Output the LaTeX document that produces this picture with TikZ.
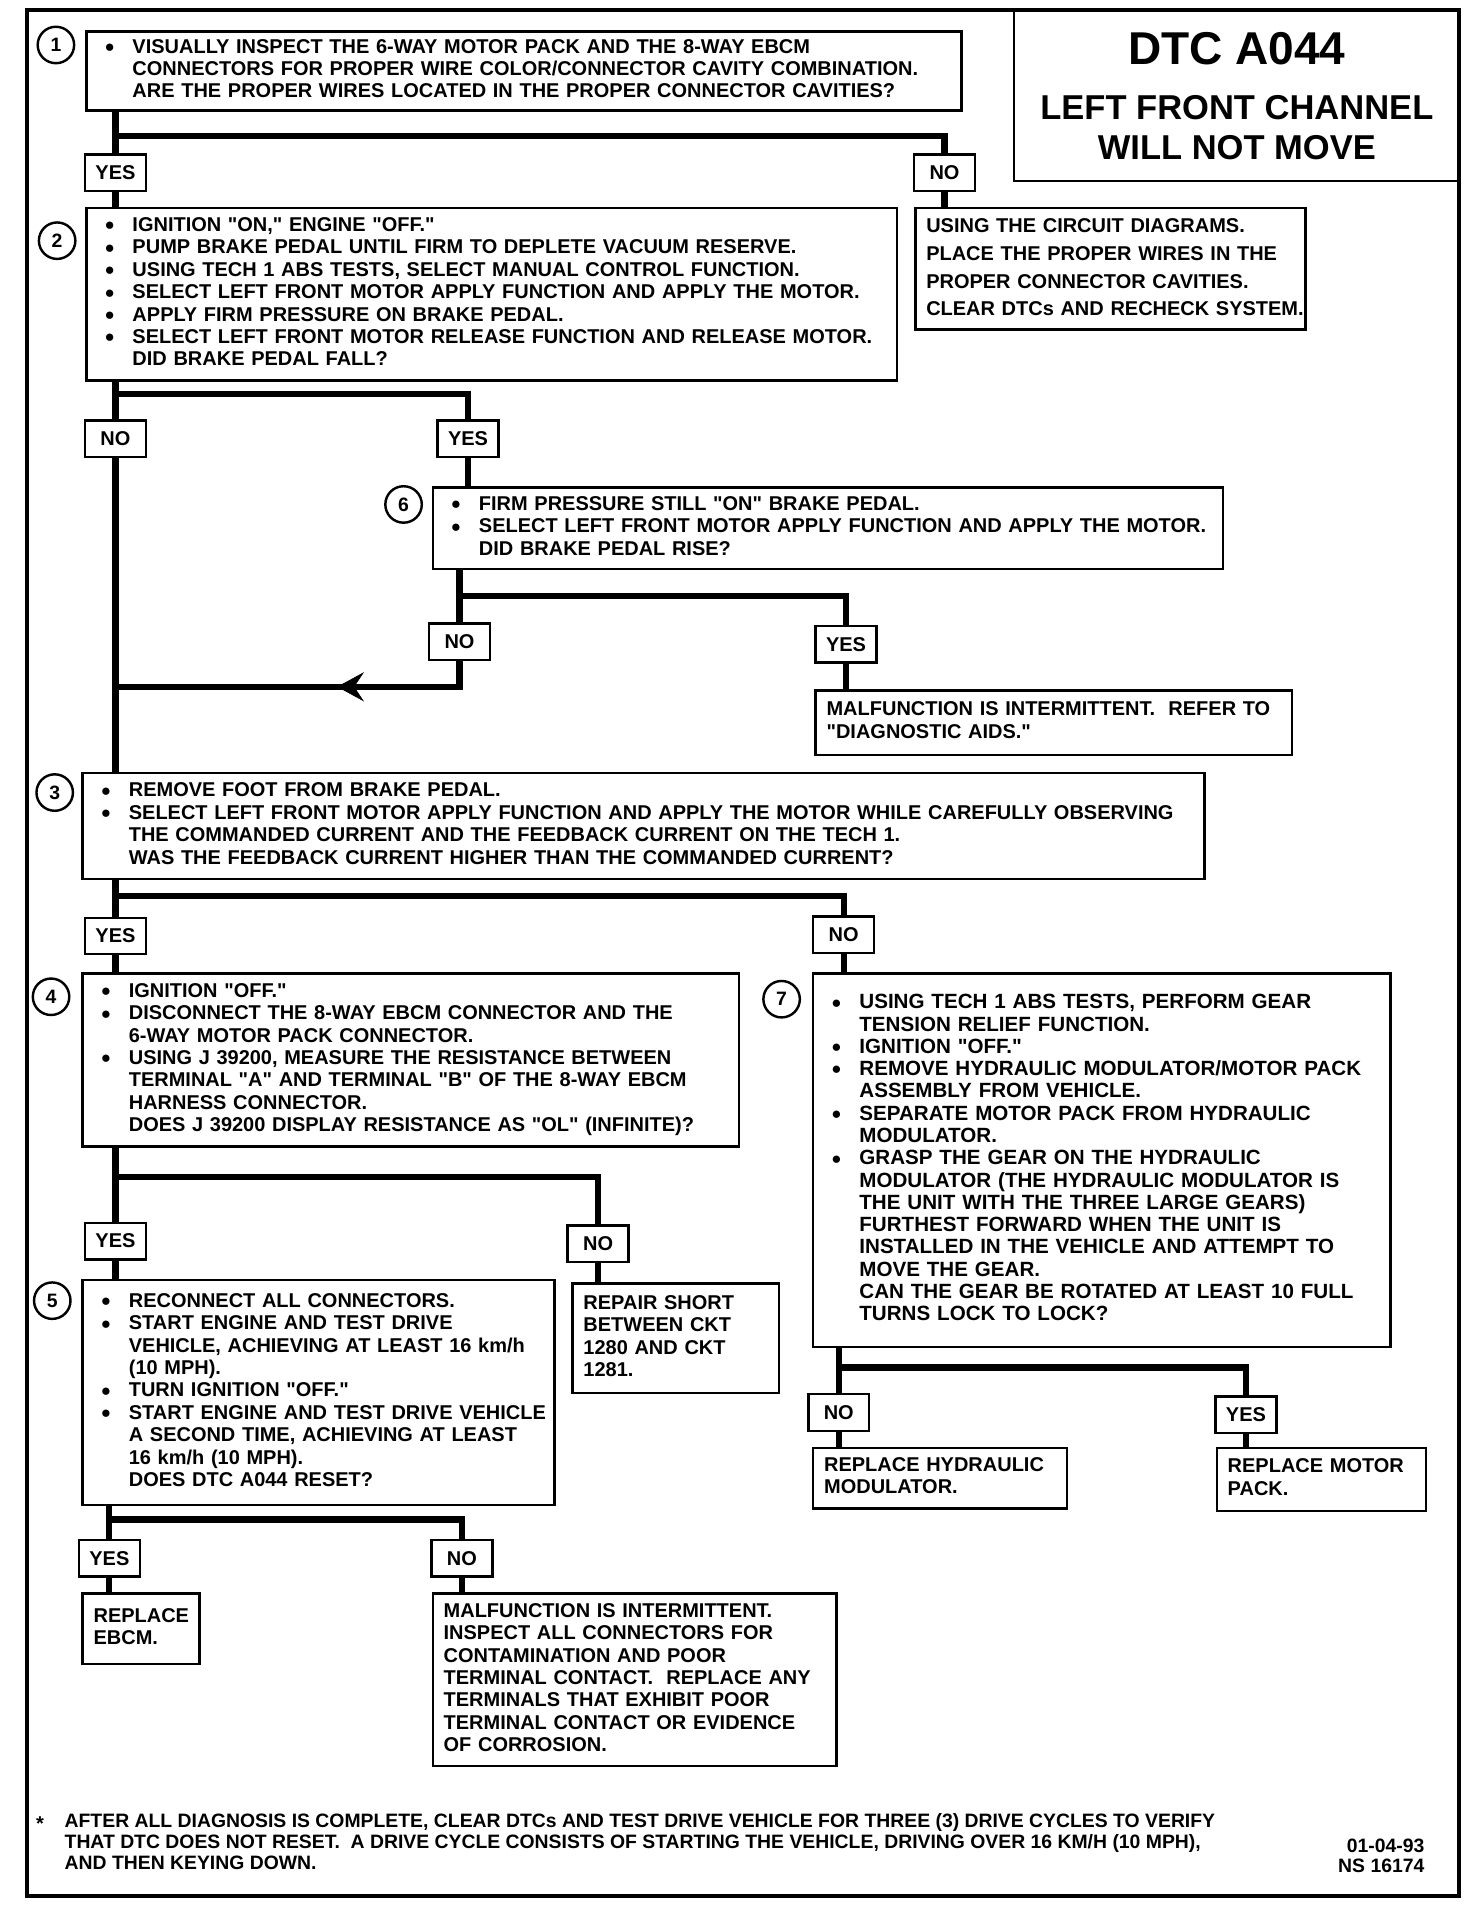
\documentclass[tikz,border=0pt]{standalone}
\usepackage{fontspec}
\setmainfont{Liberation Sans}
\usetikzlibrary{arrows.meta,decorations.markings}

\newcommand\boxfont{\fontsize{16.5}{18.5}\selectfont\bfseries}
\newcommand\numfont{\fontsize{16}{16}\selectfont\bfseries}
\newcommand\bitem{\makebox[23bp][l]{\fontsize{14}{14}\selectfont\raisebox{0.5bp}{●}}}
\newcommand\bcont{\hspace*{23bp}}
\newcommand\qq{\textquotedbl}
\newcommand\boxlines[1]{\begin{tabular}{@{}l@{}}#1\end{tabular}}

\begin{document}
\begin{tikzpicture}[x=1bp, y=-1bp,
            box/.style={draw=black, line width=2bp, anchor=north west, inner xsep=15bp, inner ysep=0bp,
                        align=left, font=\boxfont},
            note/.style={box, inner xsep=9bp},
            answer/.style={draw=black, line width=2bp, minimum width=50bp, minimum height=30bp,
                           inner sep=0bp, font=\boxfont},
            num/.style={circle, draw=black, line width=2bp, minimum size=30bp, inner sep=0bp, font=\numfont},
            link/.style={line width=5bp},
            midarrow/.style={postaction={decorate}, decoration={markings,
                             mark=at position 0.40 with {\arrow{Stealth[length=22bp, width=24bp, inset=8bp, line width=0.5bp]}}}}
        ]
        \fill[white] (0,0) rectangle (1211,1568);
        \draw[line width=3bp] (22,8) rectangle (1200,1560);

        \node[box, minimum width=720bp, minimum height=65bp, text width=690bp] (b1) at (70,25) {\boxlines{
            \bitem VISUALLY INSPECT THE 6-WAY MOTOR PACK AND THE 8-WAY EBCM\\
            \bcont CONNECTORS FOR PROPER WIRE COLOR/CONNECTOR CAVITY COMBINATION.\\
            \bcont ARE THE PROPER WIRES LOCATED IN THE PROPER CONNECTOR CAVITIES?}};
        \node[num] (n1) at (46,37) {1};
        \node[draw=black, line width=2bp, anchor=north west, minimum width=367bp, minimum height=140bp,
              align=center, font=\fontsize{28.5}{33}\selectfont\bfseries] (head) at (833,8)
            {{\fontsize{38}{40}\selectfont DTC A044}\\[12bp] LEFT FRONT CHANNEL\\ WILL NOT MOVE};

        \node[answer] (yes1) at (95,142) {YES};
        \node[answer] (no1) at (777,142) {NO};
        \coordinate (j1) at (95,112);
        \node[note, minimum width=321bp, minimum height=100bp, text width=303bp,
              font=\fontsize{16.5}{23}\selectfont\bfseries] (fix1) at (752,170) {\boxlines{
            USING THE CIRCUIT DIAGRAMS.\\
            PLACE THE PROPER WIRES IN THE\\
            PROPER CONNECTOR CAVITIES.\\
            CLEAR DTCs AND RECHECK SYSTEM.}};

        \node[box, minimum width=667bp, minimum height=142bp, text width=637bp] (b2) at (70,170) {\boxlines{
            \bitem IGNITION \qq ON,\qq{} ENGINE \qq OFF.\qq\\
            \bitem PUMP BRAKE PEDAL UNTIL FIRM TO DEPLETE VACUUM RESERVE.\\
            \bitem USING TECH 1 ABS TESTS, SELECT MANUAL CONTROL FUNCTION.\\
            \bitem SELECT LEFT FRONT MOTOR APPLY FUNCTION AND APPLY THE MOTOR.\\
            \bitem APPLY FIRM PRESSURE ON BRAKE PEDAL.\\
            \bitem SELECT LEFT FRONT MOTOR RELEASE FUNCTION AND RELEASE MOTOR.\\
            \bcont DID BRAKE PEDAL FALL?}};
        \node[num] (n2) at (47,198) {2};

        \node[answer] (no2) at (95,361) {NO};
        \node[answer] (yes2) at (385,361) {YES};
        \coordinate (j2) at (95,324);

        \node[box, minimum width=650bp, minimum height=67bp, text width=620bp] (b6) at (355,400) {\boxlines{
            \bitem FIRM PRESSURE STILL \qq ON\qq{} BRAKE PEDAL.\\
            \bitem SELECT LEFT FRONT MOTOR APPLY FUNCTION AND APPLY THE MOTOR.\\
            \bcont DID BRAKE PEDAL RISE?}};
        \node[num] (n6) at (332,415) {6};

        \node[answer] (no6) at (378,528) {NO};
        \node[answer] (yes6) at (696,530) {YES};
        \coordinate (j6) at (378,490);
        \coordinate (jret) at (95,565);
        \node[note, minimum width=392bp, minimum height=53bp, text width=374bp] (aids) at (670,567) {\boxlines{
            MALFUNCTION IS INTERMITTENT.\ \ REFER TO\\
            \qq DIAGNOSTIC AIDS.\qq}};

        \node[box, minimum width=923bp, minimum height=87bp, text width=893bp] (b3) at (67,635) {\boxlines{
            \bitem REMOVE FOOT FROM BRAKE PEDAL.\\
            \bitem SELECT LEFT FRONT MOTOR APPLY FUNCTION AND APPLY THE MOTOR WHILE CAREFULLY OBSERVING\\
            \bcont THE COMMANDED CURRENT AND THE FEEDBACK CURRENT ON THE TECH 1.\\
            \bcont WAS THE FEEDBACK CURRENT HIGHER THAN THE COMMANDED CURRENT?}};
        \node[num] (n3) at (45,652) {3};

        \node[answer] (yes3) at (95,770) {YES};
        \node[answer] (no3) at (694,769) {NO};
        \coordinate (j3) at (95,737);

        \node[box, minimum width=540bp, minimum height=142bp, text width=510bp] (b4) at (67,800) {\boxlines{
            \bitem IGNITION \qq OFF.\qq\\
            \bitem DISCONNECT THE 8-WAY EBCM CONNECTOR AND THE\\
            \bcont 6-WAY MOTOR PACK CONNECTOR.\\
            \bitem USING J 39200, MEASURE THE RESISTANCE BETWEEN\\
            \bcont TERMINAL \qq A\qq{} AND TERMINAL \qq B\qq{} OF THE 8-WAY EBCM\\
            \bcont HARNESS CONNECTOR.\\
            \bcont DOES J 39200 DISPLAY RESISTANCE AS \qq OL\qq{} (INFINITE)?}};
        \node[num] (n4) at (42,820) {4};

        \node[box, minimum width=475bp, minimum height=307bp, text width=445bp,
              font=\fontsize{17}{18.4}\selectfont\bfseries] (b7) at (668,800) {\boxlines{
            \bitem USING TECH 1 ABS TESTS, PERFORM GEAR\\
            \bcont TENSION RELIEF FUNCTION.\\
            \bitem IGNITION \qq OFF.\qq\\
            \bitem REMOVE HYDRAULIC MODULATOR/MOTOR PACK\\
            \bcont ASSEMBLY FROM VEHICLE.\\
            \bitem SEPARATE MOTOR PACK FROM HYDRAULIC\\
            \bcont MODULATOR.\\
            \bitem GRASP THE GEAR ON THE HYDRAULIC\\
            \bcont MODULATOR (THE HYDRAULIC MODULATOR IS\\
            \bcont THE UNIT WITH THE THREE LARGE GEARS)\\
            \bcont FURTHEST FORWARD WHEN THE UNIT IS\\
            \bcont INSTALLED IN THE VEHICLE AND ATTEMPT TO\\
            \bcont MOVE THE GEAR.\\
            \bcont CAN THE GEAR BE ROTATED AT LEAST 10 FULL\\
            \bcont TURNS LOCK TO LOCK?}};
        \node[num] (n7) at (643,822) {7};

        \node[answer] (yes4) at (95,1021) {YES};
        \node[answer] (no4) at (492,1023) {NO};
        \coordinate (j4) at (95,968);

        \node[box, minimum width=388bp, minimum height=185bp, text width=358bp] (b5) at (67,1052) {\boxlines{
            \bitem RECONNECT ALL CONNECTORS.\\
            \bitem START ENGINE AND TEST DRIVE\\
            \bcont VEHICLE, ACHIEVING AT LEAST 16 km/h\\
            \bcont (10 MPH).\\
            \bitem TURN IGNITION \qq OFF.\qq\\
            \bitem START ENGINE AND TEST DRIVE VEHICLE\\
            \bcont A SECOND TIME, ACHIEVING AT LEAST\\
            \bcont 16 km/h (10 MPH).\\
            \bcont DOES DTC A044 RESET?}};
        \node[num] (n5) at (43,1070) {5};
        \node[note, minimum width=170bp, minimum height=90bp, text width=152bp] (fix4) at (470,1055) {\boxlines{
            REPAIR SHORT\\
            BETWEEN CKT\\
            1280 AND CKT\\
            1281.}};

        \node[answer] (yes5) at (90,1282) {YES};
        \node[answer] (no5) at (380,1282) {NO};
        \coordinate (j5) at (90,1250);
        \node[note, minimum width=96bp, minimum height=58bp, text width=78bp] (ebcm) at (67,1310) {\boxlines{
            REPLACE\\
            EBCM.}};
        \node[note, minimum width=332bp, minimum height=142bp, text width=314bp] (inter) at (355,1310) {\boxlines{
            MALFUNCTION IS INTERMITTENT.\\
            INSPECT ALL CONNECTORS FOR\\
            CONTAMINATION AND POOR\\
            TERMINAL CONTACT.\ \ REPLACE ANY\\
            TERMINALS THAT EXHIBIT POOR\\
            TERMINAL CONTACT OR EVIDENCE\\
            OF CORROSION.}};

        \node[answer] (no7) at (690,1162) {NO};
        \node[answer] (yes7) at (1025,1164) {YES};
        \coordinate (j7) at (690,1125);
        \node[note, minimum width=209bp, minimum height=50bp, text width=191bp] (hyd) at (668,1190) {\boxlines{
            REPLACE HYDRAULIC\\
            MODULATOR.}};
        \node[note, minimum width=172bp, minimum height=52bp, text width=154bp] (motor) at (1000,1190) {\boxlines{
            REPLACE MOTOR\\
            PACK.}};

        \node[font=\boxfont, inner sep=0bp] (star) at (33,1500) {*};
        \node[anchor=north west, inner sep=0bp, font=\fontsize{16}{17.5}\selectfont\bfseries] (foot) at (53,1491) {\boxlines{
            AFTER ALL DIAGNOSIS IS COMPLETE, CLEAR DTCs AND TEST DRIVE VEHICLE FOR THREE (3) DRIVE CYCLES TO VERIFY\\
            THAT DTC DOES NOT RESET.\ \ A DRIVE CYCLE CONSISTS OF STARTING THE VEHICLE, DRIVING OVER 16 KM/H (10 MPH),\\
            AND THEN KEYING DOWN.}};
        \node[anchor=north east, inner sep=0bp, align=right, font=\fontsize{16}{16.5}\selectfont\bfseries] (date) at (1172,1513)
            {01-04-93\\NS 16174};

        \draw[link] (b1.south -| yes1) -- (yes1.north);
        \draw[link] (j1) -| (no1.north);
        \draw[link] (yes1.south) -- (yes1.south |- b2.north);
        \draw[link] (no1.south) -- (no1.south |- fix1.north);

        \draw[link] (b2.south -| no2) -- (no2.north);
        \draw[link] (j2) -| (yes2.north);
        \draw[link] (yes2.south) -- (yes2.south |- b6.north);
        \draw[link] (no2.south) -- (no2.south |- b3.north);

        \draw[link] (b6.south -| no6) -- (no6.north);
        \draw[link] (j6) -| (yes6.north);
        \draw[link] (yes6.south) -- (yes6.south |- aids.north);
        \draw[link, midarrow] (no6.south) |- (jret);

        \draw[link] (b3.south -| yes3) -- (yes3.north);
        \draw[link] (j3) -| (no3.north);
        \draw[link] (yes3.south) -- (yes3.south |- b4.north);
        \draw[link] (no3.south) -- (no3.south |- b7.north);

        \draw[link] (b4.south -| yes4) -- (yes4.north);
        \draw[link] (j4) -| (no4.north);
        \draw[link] (yes4.south) -- (yes4.south |- b5.north);
        \draw[link] (no4.south) -- (no4.south |- fix4.north);

        \draw[link] (b5.south -| yes5) -- (yes5.north);
        \draw[link] (j5) -| (no5.north);
        \draw[link] (yes5.south) -- (yes5.south |- ebcm.north);
        \draw[link] (no5.south) -- (no5.south |- inter.north);

        \draw[link] (b7.south -| no7) -- (no7.north);
        \draw[link] (j7) -| (yes7.north);
        \draw[link] (no7.south) -- (no7.south |- hyd.north);
        \draw[link] (yes7.south) -- (yes7.south |- motor.north);
        \end{tikzpicture}
\end{document}
